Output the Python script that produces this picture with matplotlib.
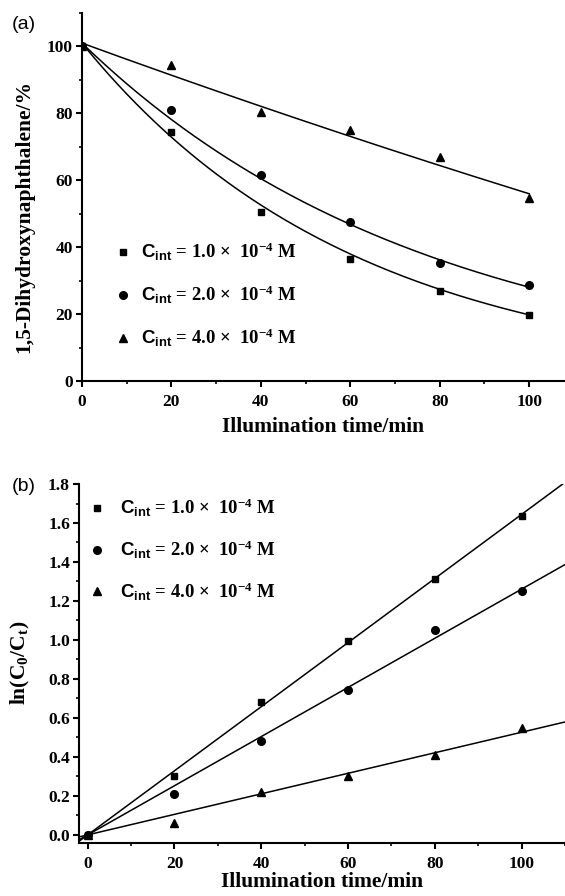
import numpy as np
import matplotlib
matplotlib.use("Agg")
import matplotlib.pyplot as plt
from matplotlib.ticker import MultipleLocator, FormatStrFormatter

plt.rcParams['font.family'] = ['Liberation Serif', 'DejaVu Sans']
plt.rcParams['font.weight'] = 'bold'
plt.rcParams['mathtext.fontset'] = 'custom'
plt.rcParams['mathtext.rm'] = 'Liberation Serif:bold'
plt.rcParams['mathtext.it'] = 'Liberation Serif:bold'
plt.rcParams['mathtext.bf'] = 'Liberation Serif:bold'
plt.rcParams['mathtext.sf'] = 'Liberation Sans'

# ---------------- data ----------------
time_a = [0, 20, 40, 60, 80, 100]
pct_c1 = [100, 74.3, 50.6, 36.5, 27.0, 19.6]
pct_c2 = [100, 81.1, 61.7, 47.5, 35.2, 28.6]
pct_c4 = [100, 94.4, 80.4, 74.9, 67.0, 54.6]
# fitted curves shown in panel (a): y = y0 + A * exp(-t / tau)
fit_y0 = [0.0, 0.0, -200.0]
fit_A = [101.0, 101.0, 301.0]
fit_tau = [61.3, 78.0, 617.0]

time_b = [0, 20, 40, 60, 80, 100]
ln_c1 = [0.0, 0.30, 0.683, 0.993, 1.314, 1.637]
ln_c2 = [0.0, 0.208, 0.483, 0.744, 1.053, 1.25]
ln_c4 = [0.0, 0.063, 0.22, 0.30, 0.41, 0.55]

labels = [r"$\mathsf{C}_{\mathsf{int}}$ = 1.0 ×  10$^{-4}$ M",
          r"$\mathsf{C}_{\mathsf{int}}$ = 2.0 ×  10$^{-4}$ M",
          r"$\mathsf{C}_{\mathsf{int}}$ = 4.0 ×  10$^{-4}$ M"]
markers = ['s', 'o', '^']
msizes = [5, 5.5, 6]

fig = plt.figure(figsize=(5.65, 8.96), dpi=100)
ax1 = fig.add_axes([0.1451, 0.5748, 0.8549, 0.4107])
ax2 = fig.add_axes([0.1398, 0.0595, 0.8602, 0.4003])

TICK_FS = 12.5
LABEL_FS = 15.5
LEG_FS = 13.5


def style(ax):
    for s in ['top', 'right']:
        ax.spines[s].set_visible(False)
    for s in ['left', 'bottom']:
        ax.spines[s].set_linewidth(1.5)
    ax.tick_params(which='major', direction='out', length=4.5, width=1.5, labelsize=TICK_FS)
    ax.tick_params(axis='x', which='major', pad=5)
    ax.tick_params(axis='y', which='major', pad=2)
    ax.tick_params(which='minor', direction='out', length=2.5, width=1.2)
    for lab in ax.get_xticklabels() + ax.get_yticklabels():
        lab.set_fontweight('bold')


# ---------------- panel (a) ----------------
t = np.array(time_a, float)
tfine = np.linspace(0, 100, 200)
handles = []
for ys, y0, A, tau, m, msz, lab in zip([pct_c1, pct_c2, pct_c4], fit_y0, fit_A, fit_tau,
                                       markers, msizes, labels):
    ax1.plot(tfine, y0 + A * np.exp(-tfine / tau), color='black', lw=1.1)
    h, = ax1.plot(t, ys, linestyle='none', marker=m, color='black', ms=msz, label=lab)
    handles.append(h)
ax1.set_xlim(0, 108)
ax1.set_ylim(0, 110)
ax1.xaxis.set_major_locator(MultipleLocator(20))
ax1.xaxis.set_minor_locator(MultipleLocator(10))
ax1.yaxis.set_major_locator(MultipleLocator(20))
ax1.yaxis.set_minor_locator(MultipleLocator(10))
style(ax1)
ax1.set_xlabel("Illumination time/min", fontsize=LABEL_FS, fontweight='bold', labelpad=5)
ax1.set_ylabel("1,5-Dihydroxynaphthalene/%", fontsize=LABEL_FS, fontweight='bold')
ax1.yaxis.set_label_coords(-0.099, 0.448)
ax1.legend(handles=handles, loc='upper left', bbox_to_anchor=(0.05, 0.40), frameon=False,
           fontsize=LEG_FS, handlelength=1.0, handletextpad=0.45, labelspacing=1.1,
           borderaxespad=0)

# ---------------- panel (b) ----------------
tb = np.array(time_b, float)
tline = np.linspace(-2, 110, 50)
handles = []
for ys, m, msz, lab in zip([ln_c1, ln_c2, ln_c4], markers, msizes, labels):
    y = np.array(ys, float)
    slope = np.sum(tb * y) / np.sum(tb * tb)
    ax2.plot(tline, slope * tline, color='black', lw=1.1)
    h, = ax2.plot(tb, y, linestyle='none', marker=m, color='black', ms=msz, label=lab)
    handles.append(h)
ax2.set_xlim(-2, 110)
ax2.set_ylim(-0.04, 1.8)
ax2.xaxis.set_major_locator(MultipleLocator(20))
ax2.xaxis.set_minor_locator(MultipleLocator(10))
ax2.yaxis.set_major_locator(MultipleLocator(0.2))
ax2.yaxis.set_minor_locator(MultipleLocator(0.1))
ax2.yaxis.set_major_formatter(FormatStrFormatter('%.1f'))
style(ax2)
ax2.set_xlabel("Illumination time/min", fontsize=LABEL_FS, fontweight='bold', labelpad=0)
ax2.set_ylabel(r"ln(C$_0$/C$_\mathrm{t}$)", fontsize=LABEL_FS, fontweight='bold')
ax2.yaxis.set_label_coords(-0.097, 0.5)
ax2.legend(handles=handles, loc='upper left', bbox_to_anchor=(0.002, 0.985), frameon=False,
           fontsize=LEG_FS, handlelength=1.0, handletextpad=0.75, labelspacing=1.05,
           borderaxespad=0)

fig.text(0.021, 0.973, "(a)", fontsize=14, family='Liberation Sans', fontweight='normal', va='center')
fig.text(0.021, 0.4565, "(b)", fontsize=14, family='Liberation Sans', fontweight='normal', va='center')

fig.savefig("out.png", dpi=100)
